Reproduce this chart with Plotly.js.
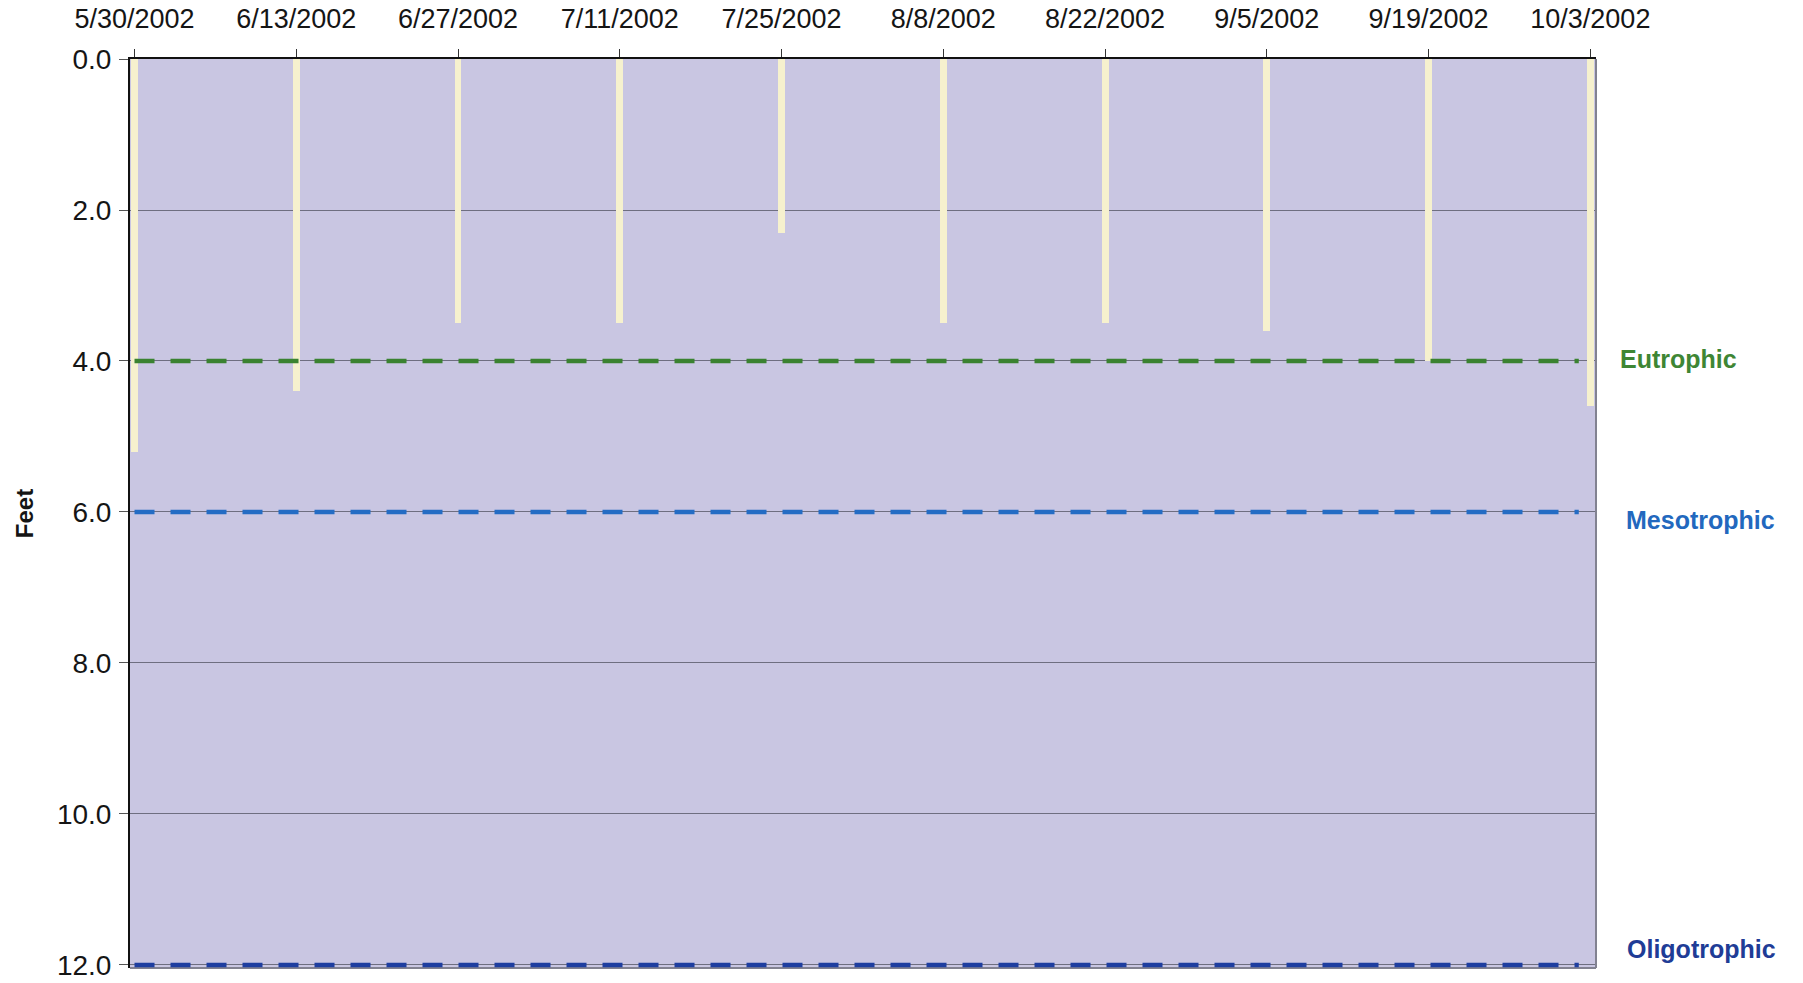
<!DOCTYPE html>
<html>
<head>
<meta charset="utf-8">
<script src="https://cdn.plot.ly/plotly-3.0.1.min.js"></script>
<style>
  html, body { margin: 0; padding: 0; background: #ffffff; }
  #chart { width: 1803px; height: 983px; }
</style>
</head>
<body>
<div id="chart"></div>
<script>
// Secchi disk transparency readings, 2002 season (feet below surface)
const sampleDates = ['2002-05-30', '2002-06-13', '2002-06-27', '2002-07-11', '2002-07-25',
                     '2002-08-08', '2002-08-22', '2002-09-05', '2002-09-19', '2002-10-03'];
const tickLabels = ['5/30/2002', '6/13/2002', '6/27/2002', '7/11/2002', '7/25/2002',
                    '8/8/2002', '8/22/2002', '9/5/2002', '9/19/2002', '10/3/2002'];
const secchiDepth = [5.2, 4.4, 3.5, 3.5, 2.3, 3.5, 3.5, 3.6, 4.0, 4.6];

// Trophic-state reference depths and the span they are drawn across
const trophicNames = ['Eutrophic', 'Mesotrophic', 'Oligotrophic'];
const trophicDepths = [4.0, 6.0, 12.0];
const trophicSpan = ['2002-05-30', '2002-10-02'];

const trophicColors = ['rgb(58,130,48)', 'rgb(36,108,196)', 'rgb(30,62,160)'];
const labelColors = ['rgb(62,134,52)', 'rgb(34,104,190)', 'rgb(32,60,150)'];
const labelShift = [{x: 22, y: 2}, {x: 28, y: -8}, {x: 29, y: 16}];

const DAY = 86400000;
const t0 = new Date(sampleDates[0] + 'T00:00:00Z').getTime();
const t1 = new Date(sampleDates[sampleDates.length - 1] + 'T00:00:00Z').getTime();
const iso = ms => new Date(ms).toISOString().replace('T', ' ').replace('Z', '');

const traces = [{
  type: 'bar',
  x: sampleDates,
  y: secchiDepth,
  width: 0.6 * DAY,
  marker: { color: 'rgb(246,241,206)', line: { width: 0 } },
  hoverinfo: 'x+y',
  showlegend: false
}];

trophicDepths.forEach((d, i) => {
  traces.push({
    type: 'scatter',
    mode: 'lines',
    x: trophicSpan,
    y: [d, d],
    line: { color: trophicColors[i], width: 4.5, dash: '20px,16px' },
    hoverinfo: 'skip',
    showlegend: false
  });
});

const annotations = trophicNames.map((name, i) => ({
  text: '<b>' + name + '</b>',
  xref: 'paper', yref: 'y',
  x: 1, y: trophicDepths[i],
  xanchor: 'left', yanchor: 'middle',
  xshift: labelShift[i].x, yshift: labelShift[i].y,
  showarrow: false,
  font: { family: 'Liberation Sans, Arial, sans-serif', size: 25, color: labelColors[i] }
}));

const layout = {
  width: 1803,
  height: 983,
  margin: { l: 130, r: 207, t: 59, b: 15, pad: 0 },
  paper_bgcolor: '#ffffff',
  plot_bgcolor: 'rgb(201,198,226)',
  font: { family: 'Liberation Sans, Arial, sans-serif', size: 26, color: '#151515' },
  bargap: 0,
  showlegend: false,
  xaxis: {
    type: 'date',
    side: 'top',
    range: [iso(t0 - 0.39 * DAY), iso(t1 + 0.49 * DAY)],
    tickmode: 'array',
    tickvals: sampleDates,
    ticktext: tickLabels,
    ticks: 'outside',
    ticklen: 8,
    tickwidth: 1,
    tickcolor: '#333333',
    ticklabelstandoff: 10,
    showgrid: false,
    showline: true,
    linecolor: '#111111',
    linewidth: 2,
    mirror: false,
    zeroline: false,
    tickfont: { size: 27, color: '#151515' }
  },
  yaxis: {
    // a little room below 12 ft so the bottom reference line is not clipped
    range: [12.04, 0],
    tickmode: 'linear',
    tick0: 0,
    dtick: 2,
    tickformat: '.1f',
    ticks: 'outside',
    ticklen: 9,
    tickwidth: 1,
    tickcolor: '#555555',
    ticklabelstandoff: 2,
    showgrid: true,
    gridcolor: 'rgb(110,110,128)',
    gridwidth: 1,
    showline: true,
    linecolor: '#111111',
    linewidth: 2,
    zeroline: false,
    tickfont: { size: 28, color: '#151515' },
    title: {
      text: '<b>Feet</b>',
      font: { size: 24, color: '#151515' },
      standoff: 17
    }
  },
  shapes: [
    // right and bottom edges of the plotting area
    { type: 'line', xref: 'paper', yref: 'paper', x0: 1, x1: 1, y0: 0, y1: 1,
      line: { color: 'rgb(130,130,145)', width: 2 } },
    { type: 'line', xref: 'paper', yref: 'paper', x0: 0, x1: 1, y0: 0, y1: 0,
      line: { color: 'rgb(130,130,145)', width: 2 }, layer: 'below' }
  ],
  annotations: annotations
};

Plotly.newPlot('chart', traces, layout, { displayModeBar: false, staticPlot: true });
</script>
</body>
</html>
